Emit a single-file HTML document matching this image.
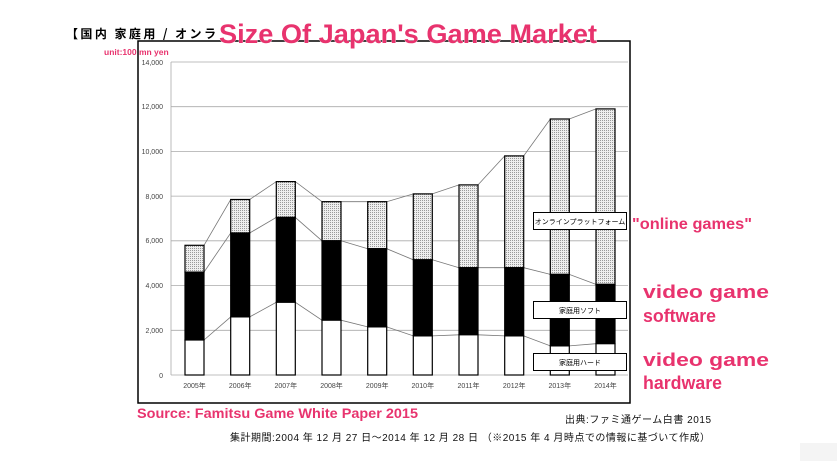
<!DOCTYPE html>
<html><head><meta charset="utf-8"><style>
body{margin:0;background:#fff;width:837px;height:461px;overflow:hidden}
svg{display:block}
.p{font-family:"Liberation Sans","Noto Sans CJK JP",sans-serif;font-weight:bold;fill:#e8336e;stroke:#fff;stroke-width:0.6;paint-order:stroke}
</style></head><body>
<svg width="837" height="461" viewBox="0 0 837 461" xmlns="http://www.w3.org/2000/svg">
<defs><pattern id="dot" width="2" height="2" patternUnits="userSpaceOnUse"><rect width="2" height="2" fill="#eee"/><rect width="1" height="1" fill="#999"/></pattern></defs>
<rect x="138" y="41" width="492" height="362" fill="none" stroke="#000" stroke-width="1.5"/>
<g stroke="#aaa" stroke-width="0.8">
<line x1="171" y1="330.3" x2="628" y2="330.3"/><line x1="171" y1="285.6" x2="628" y2="285.6"/><line x1="171" y1="240.8" x2="628" y2="240.8"/><line x1="171" y1="196.1" x2="628" y2="196.1"/><line x1="171" y1="151.4" x2="628" y2="151.4"/><line x1="171" y1="106.7" x2="628" y2="106.7"/><line x1="171" y1="62" x2="628" y2="62"/>
<line x1="171" y1="62" x2="171" y2="375"/><line x1="171" y1="375" x2="628" y2="375"/>
</g>
<g font-family="Liberation Sans,sans-serif" font-size="7" fill="#444" text-anchor="end">
<text x="163" y="378">0</text><text x="163" y="333">2,000</text><text x="163" y="288">4,000</text><text x="163" y="243">6,000</text><text x="163" y="199">8,000</text><text x="163" y="154">10,000</text><text x="163" y="109">12,000</text><text x="163" y="65">14,000</text>
</g>
<g font-family="Liberation Sans,'Noto Sans CJK JP',sans-serif" font-size="7" fill="#444" text-anchor="middle">
<text x="194.5" y="388">2005年</text><text x="240.2" y="388">2006年</text><text x="285.8" y="388">2007年</text><text x="331.5" y="388">2008年</text><text x="377.2" y="388">2009年</text><text x="422.8" y="388">2010年</text><text x="468.5" y="388">2011年</text><text x="514.2" y="388">2012年</text><text x="559.8" y="388">2013年</text><text x="605.5" y="388">2014年</text>
</g>
<g stroke="#777" stroke-width="0.8" fill="none">
<polyline points="204,245.3 230.7,199.5 249.7,199.5 276.3,181.6 295.3,181.6 322,201.7 341,201.7 367.7,201.7 386.7,201.7 413.3,193.9 432.3,193.9 459,184.9 478,184.9 504.7,155.9 523.7,155.9 550.3,119 569.3,119 596,108.9"/>
<polyline points="204,272.1 230.7,233 249.7,233 276.3,217.4 295.3,217.4 322,240.8 341,240.8 367.7,248.7 386.7,248.7 413.3,259.8 432.3,259.8 459,267.7 478,267.7 504.7,267.7 523.7,267.7 550.3,274.4 569.3,274.4 596,284.4"/>
<polyline points="204,340 230.7,316.9 249.7,316.9 276.3,302.3 295.3,302.3 322,320.2 341,320.2 367.7,326.9 386.7,326.9 413.3,335.9 432.3,335.9 459,334.8 478,334.8 504.7,335.9 523.7,335.9 550.3,345.9 569.3,345.9 596,343.7"/>
</g>
<g stroke="#000" stroke-width="1.2">
<rect x="185" y="245.3" width="19" height="26.8" fill="url(#dot)"/><rect x="185" y="272.1" width="19" height="67.9" fill="#000"/><rect x="185" y="340" width="19" height="35" fill="#fff"/>
<rect x="230.7" y="199.5" width="19" height="33.5" fill="url(#dot)"/><rect x="230.7" y="233" width="19" height="83.9" fill="#000"/><rect x="230.7" y="316.9" width="19" height="58.1" fill="#fff"/>
<rect x="276.3" y="181.6" width="19" height="35.8" fill="url(#dot)"/><rect x="276.3" y="217.4" width="19" height="84.9" fill="#000"/><rect x="276.3" y="302.3" width="19" height="72.7" fill="#fff"/>
<rect x="322" y="201.7" width="19" height="39.1" fill="url(#dot)"/><rect x="322" y="240.8" width="19" height="79.4" fill="#000"/><rect x="322" y="320.2" width="19" height="54.8" fill="#fff"/>
<rect x="367.7" y="201.7" width="19" height="47" fill="url(#dot)"/><rect x="367.7" y="248.7" width="19" height="78.2" fill="#000"/><rect x="367.7" y="326.9" width="19" height="48.1" fill="#fff"/>
<rect x="413.3" y="193.9" width="19" height="65.9" fill="url(#dot)"/><rect x="413.3" y="259.8" width="19" height="76.1" fill="#000"/><rect x="413.3" y="335.9" width="19" height="39.1" fill="#fff"/>
<rect x="459" y="184.9" width="19" height="82.8" fill="url(#dot)"/><rect x="459" y="267.7" width="19" height="67.1" fill="#000"/><rect x="459" y="334.8" width="19" height="40.2" fill="#fff"/>
<rect x="504.7" y="155.9" width="19" height="111.8" fill="url(#dot)"/><rect x="504.7" y="267.7" width="19" height="68.2" fill="#000"/><rect x="504.7" y="335.9" width="19" height="39.1" fill="#fff"/>
<rect x="550.3" y="119" width="19" height="155.4" fill="url(#dot)"/><rect x="550.3" y="274.4" width="19" height="71.5" fill="#000"/><rect x="550.3" y="345.9" width="19" height="29.1" fill="#fff"/>
<rect x="596" y="108.9" width="19" height="175.5" fill="url(#dot)"/><rect x="596" y="284.4" width="19" height="59.3" fill="#000"/><rect x="596" y="343.7" width="19" height="31.3" fill="#fff"/>
</g>
<g stroke="#000" stroke-width="1" fill="#fff">
<rect x="533.5" y="212.5" width="93" height="17"/><rect x="533.5" y="301.5" width="93" height="17"/><rect x="533.5" y="353.5" width="93" height="17"/>
</g>
<g font-family="'Noto Sans CJK JP',sans-serif" font-size="7" fill="#000" text-anchor="middle">
<text x="580" y="224">オンラインプラットフォーム</text><text x="580" y="313">家庭用ソフト</text><text x="580" y="365">家庭用ハード</text>
</g>
<rect x="60" y="28" width="80" height="12" fill="#fff"/>
<text x="66" y="38" font-family="'Noto Sans CJK JP',sans-serif" font-weight="bold" font-size="12" fill="#000" textLength="150" lengthAdjust="spacing">【国内 家庭用 / オンラ</text>
<text x="219" y="43" class="p" font-size="27" textLength="378" lengthAdjust="spacingAndGlyphs">Size Of Japan's Game Market</text>
<text x="104" y="55" class="p" font-size="8.5">unit:100 mn yen</text>
<text x="632" y="229" class="p" font-size="16" textLength="120" lengthAdjust="spacingAndGlyphs">"online games"</text>
<text x="643" y="298" class="p" font-size="18" textLength="126" lengthAdjust="spacingAndGlyphs">video game</text>
<text x="643" y="322" class="p" font-size="18" textLength="73" lengthAdjust="spacingAndGlyphs">software</text>
<text x="643" y="366" class="p" font-size="18" textLength="126" lengthAdjust="spacingAndGlyphs">video game</text>
<text x="643" y="389" class="p" font-size="18" textLength="79" lengthAdjust="spacingAndGlyphs">hardware</text>
<text x="137" y="418" class="p" font-size="14" textLength="281" lengthAdjust="spacingAndGlyphs">Source: Famitsu Game White Paper 2015</text>
<g font-family="Liberation Sans,'Noto Sans CJK JP',sans-serif" font-size="10" fill="#111">
<text x="565" y="423" textLength="146">出典:ファミ通ゲーム白書 2015</text>
<text x="230" y="441" textLength="480">集計期間:2004 年 12 月 27 日～2014 年 12 月 28 日 （※2015 年 4 月時点での情報に基づいて作成）</text>
</g>
<rect x="800" y="443" width="37" height="18" fill="#f4f4f4"/>
</svg>
</body></html>
